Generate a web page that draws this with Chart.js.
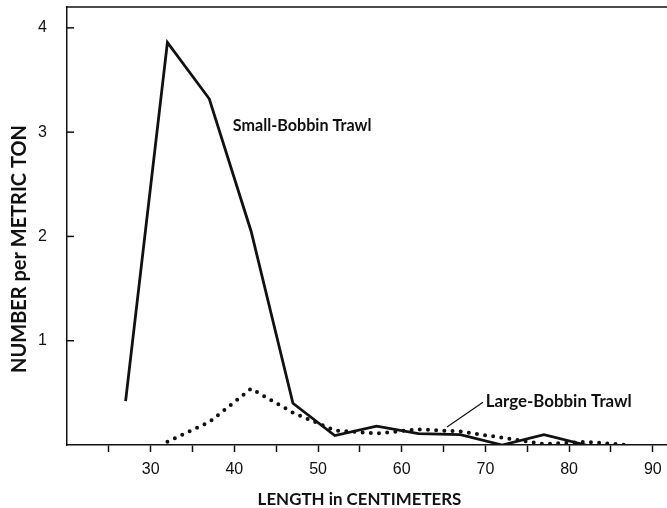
<!DOCTYPE html>
<html><head><meta charset="utf-8">
<script src="https://cdn.jsdelivr.net/npm/chart.js@4.4.1/dist/chart.umd.min.js"></script>
<style>html,body{margin:0;padding:0;background:#fff;}canvas{display:block;}</style>
</head><body>
<canvas id="c" width="667" height="508"></canvas>
<script>
// ---- data ----
const smallLengths = [27, 32, 37, 42, 47, 52, 57, 62, 67, 72, 77, 82];
const smallValues  = [0.42, 3.86, 3.32, 2.05, 0.40, 0.09, 0.18, 0.11, 0.10, 0.0, 0.10, 0.0];
const largeLengths = [32, 37, 42, 47, 52, 57, 62, 67, 72, 77, 82, 87];
const largeValues  = [0.03, 0.22, 0.54, 0.31, 0.14, 0.11, 0.15, 0.13, 0.07, 0.01, 0.03, 0.0];
const xTickValues  = [25, 30, 35, 40, 45, 50, 55, 60, 65, 70, 75, 80, 85, 90];
const xLabelValues = [30, 40, 50, 60, 70, 80, 90];
const yTickValues  = [1, 2, 3, 4];
const xTitle = 'LENGTH in CENTIMETERS';
const yTitle = 'NUMBER per METRIC TON';
const smallLabel = 'Small-Bobbin Trawl';
const largeLabel = 'Large-Bobbin Trawl';

const INK = '#111';
const TITLE_FAMILY = 'Lato, "Noto Sans", sans-serif';

function fitSize(ctx, text, weight, family, width) {
  ctx.font = weight + ' 100px ' + family;
  return 100 * width / ctx.measureText(text).width;
}
function drawFitted(ctx, text, x, y, width, align) {
  const s = fitSize(ctx, text, 'bold', TITLE_FAMILY, width);
  ctx.font = 'bold ' + s.toFixed(2) + 'px ' + TITLE_FAMILY;
  ctx.textAlign = align;
  ctx.textBaseline = 'middle';
  ctx.fillStyle = INK;
  ctx.fillText(text, x, y);
}

const extras = {
  id: 'extras',
  afterDraw(chart, args, o) {
    const ctx = chart.ctx, a = chart.chartArea;
    const xs = chart.scales.x, ys = chart.scales.y;
    ctx.save();
    ctx.strokeStyle = INK; ctx.lineWidth = 1.5;
    ctx.beginPath(); ctx.moveTo(a.left, a.top); ctx.lineTo(a.right, a.top); ctx.stroke();
    yTickValues.forEach(v => {
      const py = ys.getPixelForValue(v);
      ctx.beginPath(); ctx.moveTo(a.left, py); ctx.lineTo(a.left + 7, py); ctx.stroke();
    });
    drawFitted(ctx, xTitle, o.xTitle.x, o.xTitle.y, o.xTitle.w, 'center');
    ctx.save();
    ctx.translate(o.yTitle.x, o.yTitle.y);
    ctx.rotate(-Math.PI / 2);
    drawFitted(ctx, yTitle, 0, 0, o.yTitle.w, 'center');
    ctx.restore();
    drawFitted(ctx, smallLabel, xs.getPixelForValue(o.small.x), ys.getPixelForValue(o.small.y), o.small.w, 'left');
    drawFitted(ctx, largeLabel, xs.getPixelForValue(o.large.x), ys.getPixelForValue(o.large.y), o.large.w, 'left');
    ctx.strokeStyle = INK; ctx.lineWidth = 1.2;
    ctx.beginPath();
    ctx.moveTo(xs.getPixelForValue(o.pointer.x1), ys.getPixelForValue(o.pointer.y1));
    ctx.lineTo(xs.getPixelForValue(o.pointer.x2), ys.getPixelForValue(o.pointer.y2));
    ctx.stroke();
    ctx.restore();
  }
};

new Chart(document.getElementById('c'), {
  type: 'line',
  data: {
    datasets: [
      {
        label: smallLabel,
        data: smallLengths.map((x, i) => ({ x, y: smallValues[i] })),
        borderColor: INK, borderWidth: 2.8, pointRadius: 0, tension: 0,
        borderJoinStyle: 'miter', fill: false
      },
      {
        label: largeLabel,
        data: largeLengths.map((x, i) => ({ x, y: largeValues[i] })),
        borderColor: INK, borderWidth: 4, pointRadius: 0, tension: 0,
        borderDash: [0, 8.2], borderCapStyle: 'round', fill: false
      }
    ]
  },
  options: {
    responsive: false, animation: false, devicePixelRatio: 1,
    layout: { padding: { top: 7, right: 0, bottom: 0, left: 0 } },
    plugins: {
      legend: { display: false }, tooltip: { enabled: false },
      extras: {
        xTitle: { x: 359.5, y: 500, w: 204 },
        yTitle: { x: 20, y: 249, w: 248 },
        small: { x: 39.8, y: 3.06, w: 139 },
        large: { x: 70.04, y: 0.42, w: 146 },
        pointer: { x1: 65.41, y1: 0.173, x2: 69.71, y2: 0.41 }
      }
    },
    scales: {
      x: {
        type: 'linear', min: 20, max: 91.7,
        afterBuildTicks: s => { s.ticks = xTickValues.map(v => ({ value: v })); },
        afterFit: s => { s.height = 63; s.paddingLeft = 0; s.paddingRight = 0; s.paddingTop = 0; s.paddingBottom = 0; },
        ticks: {
          autoSkip: false, maxRotation: 0, minRotation: 0, padding: 8, color: INK,
          font: { family: '"Liberation Sans", Arial, sans-serif', size: 16 },
          callback: v => xLabelValues.includes(v) ? String(v) : ''
        },
        grid: { display: true, drawOnChartArea: false, drawTicks: true, tickLength: 7, tickWidth: 1.5, color: INK },
        border: { display: true, color: INK, width: 1.5 }
      },
      y: {
        type: 'linear', min: 0, max: 4.2,
        afterBuildTicks: s => { s.ticks = yTickValues.map(v => ({ value: v })); },
        afterFit: s => { s.width = 67; s.paddingTop = 0; s.paddingBottom = 0; s.paddingLeft = 0; s.paddingRight = 0; },
        ticks: {
          padding: 12, color: INK,
          font: { family: '"Liberation Sans", Arial, sans-serif', size: 16 },
          callback: v => String(v)
        },
        grid: { display: false },
        border: { display: true, color: INK, width: 1.5 }
      }
    }
  },
  plugins: [extras]
});
</script>
</body></html>
